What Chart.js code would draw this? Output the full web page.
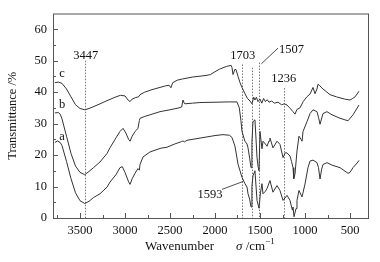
<!DOCTYPE html>
<html>
<head>
<meta charset="utf-8">
<script src="https://cdn.jsdelivr.net/npm/chart.js@4/dist/chart.umd.min.js"></script>
<style>
  html, body { margin: 0; padding: 0; background: #fff; }
  #wrap { width: 380px; height: 262px; }
</style>
</head>
<body>
<div id="wrap"><canvas id="ftir"></canvas></div>
<script>
// ── data ────────────────────────────────────────────────────────────
const WN_C = [3780,3740,3700,3650,3600,3550,3500,3447,3400,3300,3200,3100,3050,3000,2960,2944,2920,2880,2850,2833,2780,2700,2611,2550,2510,2490,2470,2420,2360,2250,2100,2050,2000,1950,1870,1820,1811,1800,1780,1767,1744,1722,1700,1667,1640,1611,1589,1570,1556,1540,1522,1500,1480,1460,1440,1420,1400,1370,1340,1300,1260,1230,1200,1170,1133,1111,1090,1056,1020,980,944,911,889,867,856,840,822,800,722,650,560,500,470,444,400];
const T_C  = [43,43.2,42.8,41,38.5,36,34.8,34.4,34.8,36,37.3,38.5,39,38.8,37.3,37,37.8,38.3,38.5,39.2,40,40.8,41.5,42,42.2,41.4,43,43.8,44.2,44.8,45.3,45.6,46.5,47.3,48.2,48.5,47.8,45.6,47.2,47.2,45,43,41.5,39.5,38,37.2,36.3,38.4,37.5,38.4,37,37.8,36.5,38,37,37.6,36.8,37.2,36.5,36.8,36,36.3,35.9,35,33.8,33,34.5,35,37,38.5,39.4,41.5,39.5,41,42.5,42.2,41.6,41,39.2,38.5,37.8,37.5,38,38.5,40.3];

const WN_B = [3780,3740,3720,3700,3650,3600,3550,3500,3447,3400,3350,3278,3200,3167,3100,3056,3022,2990,2960,2944,2920,2889,2870,2856,2840,2833,2780,2722,2611,2500,2400,2370,2356,2340,2333,2250,2167,2000,1850,1756,1730,1712,1700,1678,1667,1644,1633,1615,1600,1590,1578,1556,1533,1522,1511,1500,1478,1467,1440,1422,1400,1389,1356,1330,1311,1278,1244,1220,1200,1167,1150,1133,1125,1111,1089,1067,1044,1033,1022,978,944,911,867,850,833,800,756,700,611,522,467,400];
const T_B  = [33.4,33.5,33,31.5,26,20.5,16.5,14.5,13.75,14.8,16,17.8,20.5,22.3,25.5,27.5,28.5,27,25,24.4,26,27.5,28,28.5,31,31.7,32.3,32.8,33.8,34.4,35,35.3,37.5,36.4,36.3,36.5,36.7,36.8,36.9,36.9,35,31,27.5,25.4,24.4,23.5,22.3,19,16,24,30.6,31.2,19.2,16.5,15,27.5,22,24.4,23.5,22.8,24.5,25.4,22.3,23.5,24.4,23.4,19.2,20.7,20.7,19.7,18,16,12.5,14,21.3,26,25,24.4,27.5,30.6,33.2,34.4,33.8,32,29.8,33.2,33.8,32.8,31.7,30.9,32.8,35.9];

const WN_A = [3780,3750,3720,3700,3650,3600,3550,3500,3447,3400,3350,3278,3200,3167,3100,3056,3030,3000,2960,2944,2920,2889,2856,2840,2833,2800,2722,2600,2533,2450,2370,2356,2340,2311,2167,2000,1911,1840,1811,1778,1744,1722,1700,1667,1644,1633,1615,1600,1590,1578,1556,1533,1511,1495,1478,1467,1440,1422,1389,1356,1311,1278,1244,1200,1167,1140,1133,1122,1100,1089,1067,1033,1000,967,944,911,867,850,833,815,800,756,700,611,522,500,467,420,400];
const T_A  = [24,24.5,24,23,18,12.5,8,5.5,4.6,5.3,6.5,7.7,9.8,11.4,13.8,16,16.3,14.5,11.5,10.7,12.5,14.2,15.7,15.2,17,19.4,21,22.2,22.5,23.5,24.3,24.5,24.2,24.7,25.4,26.2,26.5,26.3,25.6,22.8,17.1,15,12.9,10.9,9.8,7.7,6,3.5,10,13.4,15,5.6,3.1,8,10.9,7.7,8.5,9.4,11.9,8.2,10.3,8.75,5.6,7.2,5.6,2.5,3.5,0.4,3,5.6,8.75,6.7,10.8,16,18.1,18.4,17.6,16,12.4,15.5,17,17.6,16.8,16,14.2,14.5,16,17.5,18.3];

const X_MAJOR = [3500,3000,2500,2000,1500,1000,500];
const X_MINOR = [3750,3250,2750,2250,1750,1250,750];
const Y_MAJOR = [0,10,20,30,40,50,60];
const Y_MINOR = [5,15,25,35,45,55];

// marked bands: wavenumber, label, top of dotted line (in %T)
const PEAK_WN   = [3447, 1703, 1593, 1507, 1236];
const PEAK_TEXT = ['3447', '1703', '1593', '1507', '1236'];
const PEAK_TOP  = [50, 48.8, 47.8, 49.4, 41.3];

const CURVE_NAMES = ['a', 'b', 'c'];

const SERIF = '"Liberation Serif", "DejaVu Serif", serif';
const INK = '#333';

function pts(wn, t) { return wn.map((w, i) => ({ x: w, y: t[i] })); }

// ── plugins ─────────────────────────────────────────────────────────
const frame = {
  id: 'frame',
  afterDraw(chart) {
    const { ctx, chartArea: a, scales: { x, y } } = chart;
    ctx.save();
    ctx.strokeStyle = '#555';
    ctx.lineWidth = 1;
    ctx.strokeRect(a.left + 0.5, a.top + 0.5, a.right - a.left, a.bottom - a.top);
    // inward ticks
    ctx.beginPath();
    X_MAJOR.forEach(v => { const p = Math.round(x.getPixelForValue(v)) + 0.5; ctx.moveTo(p, a.bottom); ctx.lineTo(p, a.bottom - 5); });
    X_MINOR.forEach(v => { const p = Math.round(x.getPixelForValue(v)) + 0.5; ctx.moveTo(p, a.bottom); ctx.lineTo(p, a.bottom - 3); });
    Y_MAJOR.forEach(v => { const p = Math.round(y.getPixelForValue(v)) + 0.5; ctx.moveTo(a.left, p); ctx.lineTo(a.left + 5, p); });
    Y_MINOR.forEach(v => { const p = Math.round(y.getPixelForValue(v)) + 0.5; ctx.moveTo(a.left, p); ctx.lineTo(a.left + 3, p); });
    ctx.stroke();

    // x-axis title with italic sigma and superscript
    ctx.fillStyle = '#111';
    ctx.textBaseline = 'alphabetic';
    ctx.textAlign = 'left';
    let tx = 145, ty = 250;
    ctx.font = '13px ' + SERIF;
    ctx.fillText('Wavenumber', tx, ty);
    tx = 236;
    ctx.font = 'italic 13px ' + SERIF;
    ctx.fillText('σ', tx, ty);
    tx += ctx.measureText('σ').width;
    ctx.font = '13px ' + SERIF;
    ctx.fillText(' /cm', tx, ty);
    tx += ctx.measureText(' /cm').width;
    ctx.font = '9px ' + SERIF;
    ctx.fillText('−1', tx, ty - 6);
    ctx.restore();
  }
};

const marks = {
  id: 'marks',
  beforeDatasetsDraw(chart) {
    const { ctx, chartArea: a, scales: { x, y } } = chart;
    ctx.save();
    ctx.strokeStyle = '#777';
    ctx.lineWidth = 1;
    ctx.setLineDash([1.5, 1.5]);
    PEAK_WN.forEach((w, i) => {
      const p = Math.round(x.getPixelForValue(w)) + 0.5;
      ctx.beginPath();
      ctx.moveTo(p, y.getPixelForValue(PEAK_TOP[i]));
      ctx.lineTo(p, a.bottom);
      ctx.stroke();
    });
    ctx.restore();
  },
  afterDatasetsDraw(chart) {
    const { ctx, scales: { x, y } } = chart;
    ctx.save();
    ctx.fillStyle = '#111';
    ctx.strokeStyle = '#222';
    ctx.lineWidth = 0.8;
    ctx.font = '12.5px ' + SERIF;
    ctx.textBaseline = 'middle';
    ctx.textAlign = 'center';
    const px = w => x.getPixelForValue(w);
    const py = v => y.getPixelForValue(v);
    // 3447 and 1703 sit just over their lines
    ctx.fillText(PEAK_TEXT[0], px(PEAK_WN[0]) + 1, py(51.6));
    ctx.fillText(PEAK_TEXT[1], px(PEAK_WN[1]) + 1, py(51.6));
    // 1236 above its line
    ctx.fillText(PEAK_TEXT[4], px(PEAK_WN[4]), py(44.3));
    // 1507 with leader
    ctx.textAlign = 'left';
    ctx.fillText(PEAK_TEXT[3], px(1290), py(53.6));
    ctx.beginPath();
    ctx.moveTo(px(PEAK_WN[3]) + 2, py(49));
    ctx.lineTo(px(1300), py(54));
    ctx.stroke();
    // 1593 with leader
    ctx.textAlign = 'center';
    ctx.fillText(PEAK_TEXT[2], px(2056), py(7.3));
    ctx.beginPath();
    ctx.moveTo(px(1922), py(9.1));
    ctx.lineTo(px(1689), py(11.6));
    ctx.stroke();
    // curve names
    ctx.font = '12.5px ' + SERIF;
    const nameY = [25.9, 36, 46];
    CURVE_NAMES.forEach((n, i) => ctx.fillText(n, px(3700), py(nameY[i])));
    ctx.restore();
  }
};

// ── chart ───────────────────────────────────────────────────────────
const line = (data) => ({
  data, borderColor: INK, borderWidth: 1, pointRadius: 0, tension: 0, fill: false
});

new Chart(document.getElementById('ftir'), {
  type: 'line',
  data: {
    datasets: [line(pts(WN_A, T_A)), line(pts(WN_B, T_B)), line(pts(WN_C, T_C))]
  },
  options: {
    responsive: true,
    maintainAspectRatio: false,
    animation: false,
    layout: { padding: { top: 10, right: 12, left: 0, bottom: 0 } },
    plugins: { legend: { display: false }, tooltip: { enabled: false } },
    scales: {
      x: {
        type: 'linear', reverse: true, min: 300, max: 3800,
        afterBuildTicks: s => { s.ticks = X_MAJOR.map(v => ({ value: v })); },
        afterFit: s => { s.height = 44; },
        grid: { display: false, drawTicks: false },
        border: { display: false },
        ticks: { color: '#111', font: { family: SERIF, size: 12.5 }, padding: 5, maxRotation: 0, autoSkip: false, callback: v => String(v) }
      },
      y: {
        min: 0, max: 65,
        afterBuildTicks: s => { s.ticks = Y_MAJOR.map(v => ({ value: v })); },
        afterFit: s => { s.width = 53; },
        grid: { display: false, drawTicks: false },
        border: { display: false },
        ticks: { color: '#111', font: { family: SERIF, size: 12.5 }, padding: 6, callback: v => String(v) },
        title: { display: true, text: 'Transmittance /%', color: '#111', font: { family: SERIF, size: 12.5 }, padding: { top: 5, bottom: 4 } }
      }
    }
  },
  plugins: [frame, marks]
});
</script>
</body>
</html>
